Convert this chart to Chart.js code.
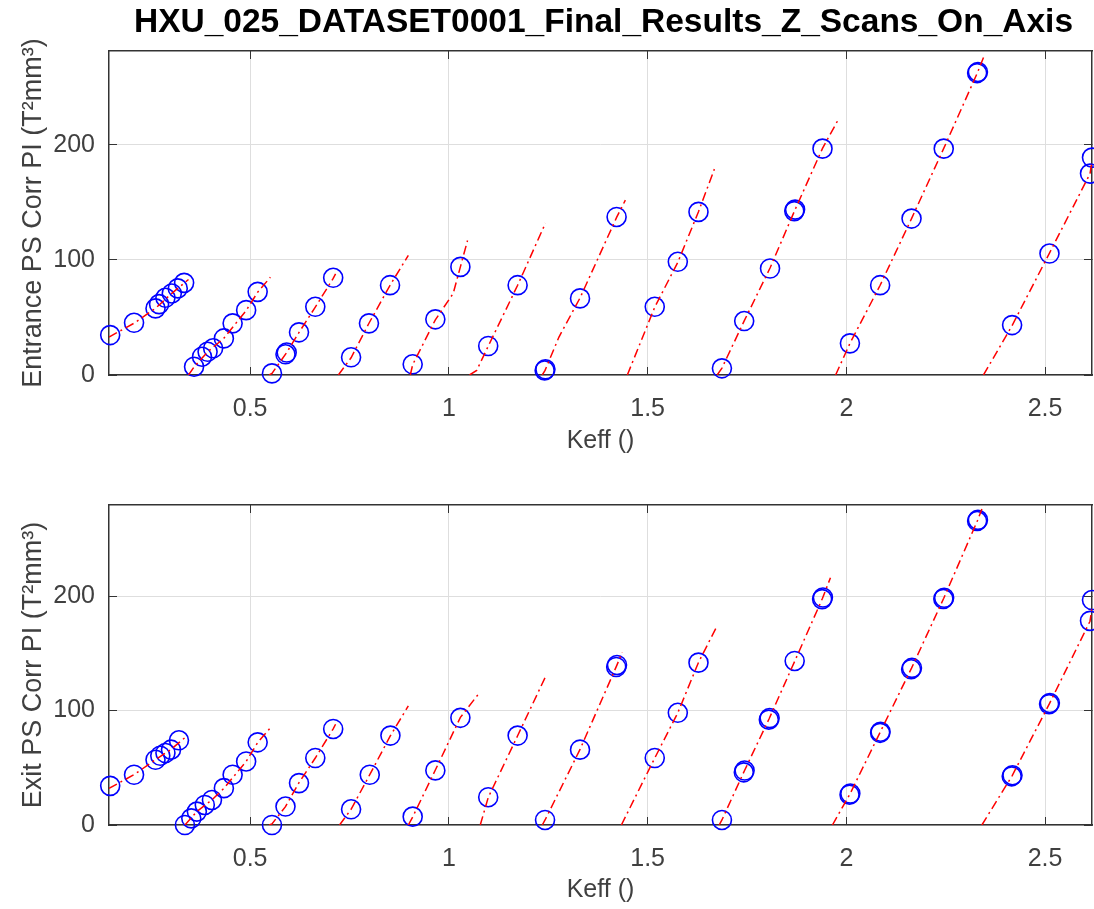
<!DOCTYPE html>
<html>
<head>
<meta charset="utf-8">
<script src="https://cdn.jsdelivr.net/npm/chart.js@4/dist/chart.umd.min.js"></script>
<style>
  body { margin: 0; background: #fff; }
  canvas { display: block; }
</style>
</head>
<body>
<canvas id="entranceChart" width="1094" height="460"></canvas>
<canvas id="exitChart" width="1094" height="449"></canvas>
<script>
const entranceX = [
    [0.148, 0.208, 0.262, 0.271, 0.287, 0.303, 0.318, 0.334],
    [0.359, 0.379, 0.393, 0.407, 0.434, 0.456, 0.490, 0.519],
    [0.555, 0.589, 0.592, 0.623, 0.664, 0.709],
    [0.754, 0.799, 0.852],
    [0.909, 0.966, 1.029],
    [1.099, 1.173],
    [1.241, 1.243, 1.330, 1.422],
    [1.518, 1.576, 1.628],
    [1.687, 1.743, 1.808, 1.869, 1.871, 1.940],
    [2.009, 2.085, 2.164, 2.245, 2.329, 2.331],
    [2.417, 2.511, 2.613, 2.618]
];
const entranceY = [
    [34.7, 45.4, 57.9, 61.6, 67.1, 70.9, 75.3, 80.1],
    [7.2, 15.9, 20.2, 23.2, 31.8, 44.9, 56.4, 72.3],
    [1.4, 18.0, 19.5, 37.1, 59.3, 84.5],
    [15.4, 44.9, 78.1],
    [9.3, 48.4, 94.0],
    [25.2, 78.1],
    [4.0, 5.0, 66.6, 137.4],
    [59.3, 98.4, 141.8],
    [5.8, 46.9, 92.6, 142.5, 143.8, 196.8],
    [27.5, 78.1, 136.0, 196.8, 262.5, 263.5],
    [43.4, 105.6, 175.1, 189.0]
];
const entranceFitX = [
    [0.145, 0.208, 0.262, 0.303, 0.345],
    [0.345, 0.359, 0.393, 0.434, 0.490, 0.519, 0.551],
    [0.548, 0.555, 0.591, 0.623, 0.664, 0.709, 0.715],
    [0.722, 0.754, 0.799, 0.852, 0.898],
    [0.903, 0.909, 0.966, 1.011, 1.029, 1.047],
    [1.052, 1.070, 1.099, 1.173, 1.243],
    [1.235, 1.242, 1.277, 1.330, 1.422, 1.444],
    [1.449, 1.518, 1.576, 1.628, 1.668],
    [1.675, 1.687, 1.743, 1.808, 1.870, 1.940, 1.978],
    [1.973, 2.009, 2.085, 2.164, 2.245, 2.330, 2.345],
    [2.345, 2.417, 2.511, 2.613, 2.618]
];
const entranceFitY = [
    [33, 45, 58, 71, 83],
    [0, 7, 20, 32, 56, 72, 85],
    [0, 1.4, 19, 37, 59, 84, 88],
    [0, 15, 45, 78, 104],
    [0, 9, 48, 71, 94, 117],
    [0, 4, 25, 78, 132],
    [0, 4, 33, 67, 137, 152],
    [0, 59, 98, 142, 179],
    [0, 6, 47, 93, 143, 197, 221],
    [0, 27.5, 78, 136, 197, 263, 276],
    [0, 43, 106, 175, 186]
];

const exitX = [
    [0.148, 0.208, 0.262, 0.274, 0.287, 0.301, 0.321],
    [0.336, 0.352, 0.366, 0.386, 0.404, 0.434, 0.456, 0.490, 0.519],
    [0.555, 0.589, 0.623, 0.664, 0.709],
    [0.754, 0.801, 0.853],
    [0.909, 0.966, 1.029],
    [1.099, 1.173],
    [1.242, 1.330, 1.421, 1.423],
    [1.518, 1.576, 1.628],
    [1.687, 1.742, 1.744, 1.805, 1.807, 1.870, 1.939, 1.941],
    [2.008, 2.010, 2.085, 2.086, 2.163, 2.165, 2.244, 2.246, 2.329, 2.331],
    [2.416, 2.418, 2.510, 2.512, 2.613, 2.618]
];
const exitY = [
    [34.2, 43.9, 57.0, 60.5, 62.9, 65.8, 74.0],
    [0, 5.8, 11.7, 17.5, 21.9, 32.2, 43.9, 55.5, 72.2],
    [0, 16.1, 36.6, 58.5, 83.9],
    [13.7, 43.9, 78.1],
    [7.3, 47.7, 93.6],
    [24.3, 78.1],
    [4.4, 65.8, 138.0, 139.8],
    [58.5, 98.0, 141.8],
    [4.4, 46.0, 47.6, 92.0, 93.4, 143.3, 197.3, 198.7],
    [26.5, 27.5, 80.5, 81.5, 136.0, 137.2, 197.5, 198.5, 265.5, 266.5],
    [42.5, 43.5, 105.6, 106.6, 178.3, 196.5]
];
const exitFitX = [
    [0.145, 0.208, 0.262, 0.301, 0.335],
    [0.336, 0.366, 0.404, 0.434, 0.490, 0.519, 0.551],
    [0.548, 0.555, 0.589, 0.623, 0.664, 0.709, 0.715],
    [0.725, 0.754, 0.801, 0.853, 0.898],
    [0.898, 0.909, 0.966, 1.029, 1.077],
    [1.079, 1.099, 1.173, 1.246],
    [1.235, 1.242, 1.330, 1.422, 1.436],
    [1.434, 1.518, 1.576, 1.628, 1.675],
    [1.680, 1.687, 1.743, 1.806, 1.870, 1.940, 1.960],
    [1.965, 2.009, 2.085, 2.164, 2.245, 2.330, 2.341],
    [2.341, 2.417, 2.511, 2.613, 2.618]
];
const exitFitY = [
    [32, 44, 57, 66, 76],
    [0, 11.7, 22, 32, 55.5, 72, 85],
    [0, 1, 16, 37, 58.5, 84, 88],
    [0, 13.7, 44, 78, 104],
    [0, 7, 48, 94, 115.5],
    [0, 24, 78, 131.6],
    [0, 4.4, 66, 139, 150.6],
    [0, 58.5, 98, 142, 174],
    [0, 4.4, 47, 93, 143, 198, 216],
    [0, 27, 81, 137, 198, 266, 276],
    [0, 43, 106, 178, 190]
];

const xTicks = [0.5, 1, 1.5, 2, 2.5];
const yTicks = [0, 100, 200];
const xRange = [0.145, 2.618];

const AXIS = '#333333';
const TEXT = '#404040';
Chart.defaults.font.family = '"Liberation Sans", Arial, sans-serif';

function toPoints(xs, ys) {
    return xs.map((x, i) => ({ x: x, y: ys[i] }));
}

function buildDatasets(cx, cy, fx, fy) {
    const sets = [];
    fx.forEach((xs, g) => {
        sets.push({
            data: toPoints(xs, fy[g]),
            showLine: true,
            borderColor: '#ff0000',
            borderWidth: 1.5,
            borderDash: [9, 4, 2, 4],
            pointRadius: 0,
            order: 1
        });
    });
    cx.forEach((xs, g) => {
        sets.push({
            data: toPoints(xs, cy[g]),
            showLine: false,
            clip: false,
            pointStyle: 'circle',
            pointRadius: 9.5,
            pointHoverRadius: 9.5,
            pointBorderWidth: 1.6,
            borderColor: '#0000ff',
            backgroundColor: 'rgba(0,0,0,0)',
            order: 2
        });
    });
    return sets;
}

// Figure title drawn centred over the plot box
const figTitle = {
    id: 'figTitle',
    afterDraw(chart, args, opts) {
        if (!opts.text) return;
        const ctx = chart.ctx;
        const a = chart.chartArea;
        ctx.save();
        ctx.font = 'bold 33.5px "Liberation Sans", Arial, sans-serif';
        ctx.fillStyle = '#000';
        ctx.textAlign = 'center';
        ctx.textBaseline = 'alphabetic';
        ctx.fillText(opts.text, (a.left + a.right) / 2 + 3, 32);
        ctx.restore();
    }
};

function makePanel(canvasId, yLabel, yMax, padTop, xAxisHeight, title, cx, cy, fx, fy) {
    const boxTicks = { display: true, tickLength: -8, tickColor: AXIS, tickWidth: 1, drawOnChartArea: false };
    return new Chart(document.getElementById(canvasId), {
        type: 'scatter',
        data: { datasets: buildDatasets(cx, cy, fx, fy) },
        plugins: [figTitle],
        options: {
            responsive: false,
            animation: false,
            layout: { autoPadding: false, padding: { top: padTop, right: 2, left: 0, bottom: 0 } },
            plugins: {
                legend: { display: false },
                tooltip: { enabled: false },
                figTitle: { text: title }
            },
            scales: {
                x: {
                    type: 'linear',
                    position: 'bottom',
                    min: xRange[0],
                    max: xRange[1],
                    afterBuildTicks: s => { s.ticks = xTicks.map(v => ({ value: v })); },
                    afterFit: s => { s.height = xAxisHeight; s.paddingLeft = 0; s.paddingRight = 0; },
                    ticks: {
                        font: { size: 25 },
                        color: TEXT,
                        padding: 27,
                        maxRotation: 0,
                        callback: v => String(v)
                    },
                    grid: { color: '#dedede', lineWidth: 1, tickLength: -8, tickColor: AXIS },
                    border: { color: AXIS, width: 1.5 },
                    title: { display: true, text: 'Keff ()', font: { size: 25 }, color: TEXT, padding: { top: 0, bottom: 4 } }
                },
                x2: {
                    type: 'linear',
                    position: 'top',
                    min: xRange[0],
                    max: xRange[1],
                    afterBuildTicks: s => { s.ticks = xTicks.map(v => ({ value: v })); },
                    afterFit: s => { s.height = 0; s.paddingLeft = 0; s.paddingRight = 0; },
                    ticks: { display: false },
                    grid: boxTicks,
                    border: { color: AXIS, width: 1.5 }
                },
                y: {
                    type: 'linear',
                    position: 'left',
                    min: 0,
                    max: yMax,
                    afterBuildTicks: s => { s.ticks = yTicks.map(v => ({ value: v })); },
                    afterFit: s => { s.width = 109; s.paddingTop = 0; s.paddingBottom = 0; },
                    ticks: { font: { size: 25 }, color: TEXT, padding: 22 },
                    grid: { color: '#dedede', lineWidth: 1, tickLength: -8, tickColor: AXIS },
                    border: { color: AXIS, width: 1.5 },
                    title: { display: true, text: yLabel, font: { size: 27 }, color: TEXT, padding: { top: 17, bottom: 0 } }
                },
                y2: {
                    type: 'linear',
                    position: 'right',
                    min: 0,
                    max: yMax,
                    afterBuildTicks: s => { s.ticks = yTicks.map(v => ({ value: v })); },
                    afterFit: s => { s.width = 0; s.paddingTop = 0; s.paddingBottom = 0; },
                    ticks: { display: false },
                    grid: boxTicks,
                    border: { color: AXIS, width: 1.5 }
                }
            }
        }
    });
}

makePanel('entranceChart', 'Entrance PS Corr PI (T²mm³)', 281.7, 51, 85,
    'HXU_025_DATASET0001_Final_Results_Z_Scans_On_Axis',
    entranceX, entranceY, entranceFitX, entranceFitY);

makePanel('exitChart', 'Exit PS Corr PI (T²mm³)', 279.5, 45, 84, '',
    exitX, exitY, exitFitX, exitFitY);
</script>
</body>
</html>
